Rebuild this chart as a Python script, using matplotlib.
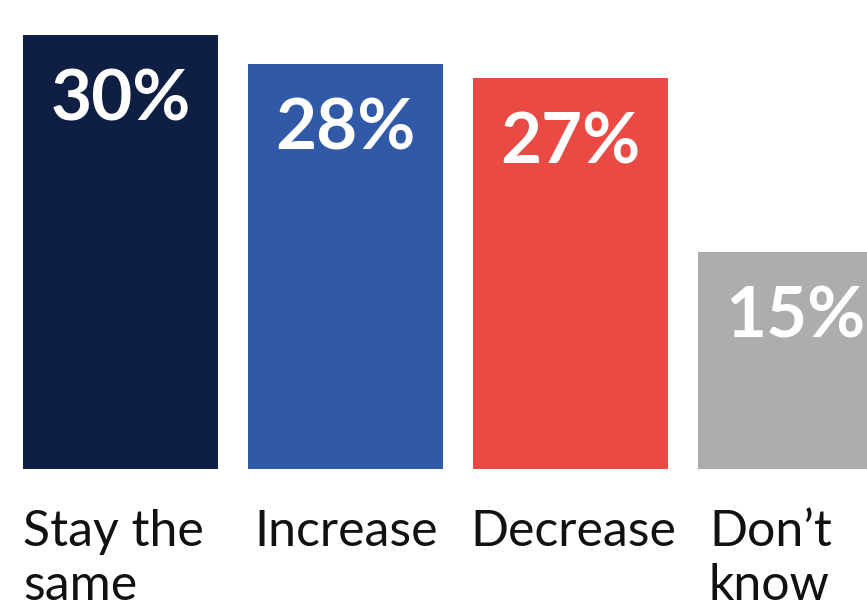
import matplotlib
matplotlib.use('Agg')
import matplotlib.pyplot as plt
import numpy as np

categories = ['Stay the\nsame', 'Increase', 'Decrease', 'Don\u2019t\nknow']
values = [30, 28, 27, 15]
colors = ['#0f1f44', '#3059a8', '#ea4a44', '#adadad']


def main():
    fig = plt.figure(figsize=(8.67, 6.05), dpi=100)
    ax = fig.add_axes([0, 1 - 469 / 605, 1, 469 / 605])

    x = np.arange(len(values))
    width = 195 / 225
    bars = ax.bar(x, values, width=width, color=colors)

    ax.set_xlim(-120.5 / 225, (867 - 120.5) / 225)
    ax.set_ylim(0, 469 / 14.47)
    ax.axis('off')

    # value labels inside the bars
    for b, v in zip(bars, values):
        ax.annotate('%d%%' % v, (b.get_x() + b.get_width() / 2, v),
                    xytext=(0, -85.5), textcoords='offset pixels',
                    ha='center', va='baseline', color='white',
                    fontsize=51, fontweight='bold', family='Lato')

    # category labels under the bars, one line at a time
    pads = [0, 6, -3, 11]
    for b, c, p in zip(bars, categories, pads):
        for i, line in enumerate(c.split('\n')):
            ax.annotate(line, (b.get_x(), 0), xytext=(p, -77 - 54 * i),
                        textcoords='offset pixels', ha='left', va='baseline',
                        fontsize=36, family='Lato', color='#111111',
                        annotation_clip=False)

    fig.savefig('out.png', dpi=100)


if __name__ == '__main__':
    main()
